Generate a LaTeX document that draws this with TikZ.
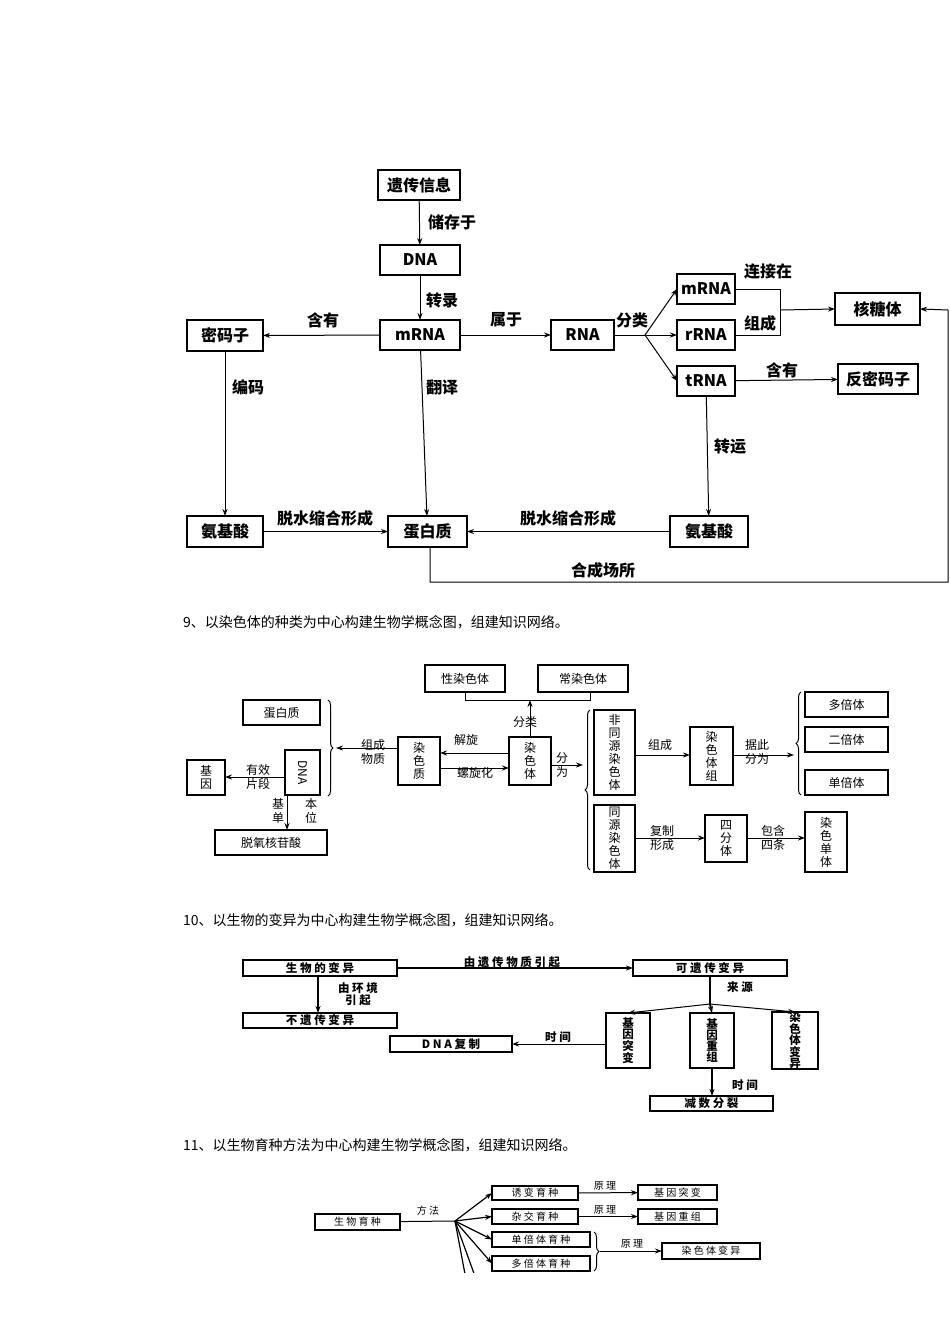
\documentclass[tikz,border=0pt]{standalone}
\usepackage{fontspec}
\setmainfont{Noto Sans CJK SC}
\newfontfamily\serifcjk{Liberation Serif}
\usetikzlibrary{arrows.meta,decorations.pathreplacing}
\newcommand\bx[7][]{\node[bx,#1,minimum width={(#5-#3)*1pt},minimum height={(#6-#4)*1pt}] (#2) at ({(#3+#5)/2},{(#4+#6)/2}) {#7};}
\tikzset{
 bx/.style={draw,line width=1.2pt,inner sep=0pt,outer sep=0pt,align=center,font=\fontsize{12}{13}\selectfont},
 big/.style={line width=1.8pt,font=\fontsize{16}{18}\selectfont\bfseries},
 mid/.style={font=\fontsize{12}{13}\selectfont},
 sml/.style={line width=1.5pt,font=\fontsize{11.5}{11}\selectfont\bfseries},
 tiny/.style={line width=1.3pt,font=\fontsize{10}{11}\selectfont},
 ar/.style={-{Stealth[length=7pt,width=5pt]},line width=1pt},
 ln/.style={line width=1pt},
 lb/.style={font=\fontsize{16}{18}\selectfont\bfseries,inner sep=1pt},
 lm/.style={font=\fontsize{12}{14}\selectfont,inner sep=1pt,align=center},
 ls/.style={font=\fontsize{11.5}{10}\selectfont\bfseries,inner sep=1pt,align=center},
 lt/.style={font=\fontsize{10}{11}\selectfont,inner sep=1pt},
 brR/.style={decorate,decoration={brace,amplitude=5pt},line width=1pt},
}
\begin{document}
\begin{tikzpicture}[x=1pt,y=-1pt]
\useasboundingbox (0,0) rectangle (950,1344);
\fill[white] (0,0) rectangle (950,1344);
% ---------- diagram 1 ----------
\bx[big]{yc}{378}{170}{460}{200}{遗传信息}
\bx[big]{dna}{380}{245}{460}{275}{DNA}
\bx[big]{mrna}{380}{320}{460}{350}{mRNA}
\bx[big]{mmz}{187}{320}{263}{351}{密码子}
\bx[big]{rna}{551}{320}{614}{350}{RNA}
\bx[big]{mr2}{677}{274}{735}{304}{mRNA}
\bx[big]{rr}{677}{320}{735}{350}{rRNA}
\bx[big]{tr}{677}{366}{735}{396}{tRNA}
\bx[big]{hty}{835}{293}{920}{325}{核糖体}
\bx[big]{fmm}{838}{364}{918}{394}{反密码子}
\bx[big]{aa1}{187}{516}{263}{547}{氨基酸}
\bx[big]{prot}{388}{516}{467}{547}{蛋白质}
\bx[big]{aa2}{670}{516}{748}{547}{氨基酸}
\draw[ar] (yc) -- (dna); \node[lb] at (452,222) {储存于};
\draw[ar] (dna) -- (mrna); \node[lb] at (442,300) {转录};
\draw[ar] (mrna) -- (mmz); \node[lb] at (323,320) {含有};
\draw[ar] (mrna) -- (rna); \node[lb] at (506,320) {属于};
\coordinate (sp1) at (645,335);
\draw[ln] (rna) -- (sp1); \node[lb] at (632,320) {分类};
\draw[ar] (sp1) -- (mr2.west); \draw[ar] (sp1) -- (rr.west); \draw[ar] (sp1) -- (tr.west);
\coordinate (j1) at (780,289); \coordinate (j2) at (780,335); \coordinate (j3) at (780,310);
\draw[ln] (mr2.east) -- (j1) -- (j2) -- (rr.east);
\draw[ar] (j3) -- (hty.west);
\node[lb] at (768,272) {连接在}; \node[lb] at (760,323) {组成};
\draw[ar] (tr) -- (fmm); \node[lb] at (782,370) {含有};
\draw[ar] (tr) -- (aa2); \node[lb] at (730,447) {转运};
\draw[ar] (aa2) -- (prot); \node[lb] at (568,518) {脱水缩合形成};
\draw[ar] (aa1) -- (prot); \node[lb] at (325,518) {脱水缩合形成};
\draw[ar] (mmz) -- (aa1); \node[lb] at (248,387) {编码};
\draw[ar] (mrna) -- (prot); \node[lb] at (442,387) {翻译};
\coordinate (b1) at (430,582); \coordinate (b2) at (948,582); \coordinate (b3) at (948,310);
\draw[ar] (prot.south -| b1) -- (b1) -- (b2) -- (b3) -- (hty.east);
\node[lb] at (603,570) {合成场所};
% captions
\node[anchor=west,font=\fontsize{14}{16}\selectfont,inner sep=0pt] at (183,622) {9、以染色体的种类为中心构建生物学概念图，组建知识网络。};
\node[anchor=west,font=\fontsize{14}{16}\selectfont,inner sep=0pt] at (183,920) {10、以生物的变异为中心构建生物学概念图，组建知识网络。};
\node[anchor=west,font=\fontsize{14}{16}\selectfont,inner sep=0pt] at (183,1145) {11、以生物育种方法为中心构建生物学概念图，组建知识网络。};
% ---------- diagram 2 ----------
\bx[mid]{xrs}{425}{665}{505}{692}{性染色体}
\bx[mid]{crs}{538}{665}{628}{692}{常染色体}
\bx[mid]{rst}{509}{737}{551}{785}{染\\色\\体}
\bx[mid]{rsz}{398}{737}{440}{785}{染\\色\\质}
\bx[mid]{dbz}{243}{700}{320}{725}{蛋白质}
\bx[mid]{dnab}{285}{750}{320}{795}{\rotatebox{-90}{DNA}}
\bx[mid]{jy}{187}{760}{225}{795}{基\\因}
\bx[mid]{tyh}{215}{830}{327}{855}{脱氧核苷酸}
\bx[mid]{ftr}{594}{710}{635}{795}{非\\同\\源\\染\\色\\体}
\bx[mid]{tr2}{594}{805}{635}{872}{同\\源\\染\\色\\体}
\bx[mid]{rstz}{690}{727}{733}{785}{染\\色\\体\\组}
\bx[mid]{dbt}{805}{692}{888}{717}{多倍体}
\bx[mid]{ebt}{805}{727}{888}{752}{二倍体}
\bx[mid]{dbt2}{805}{770}{888}{795}{单倍体}
\bx[mid]{sft}{705}{815}{747}{862}{四\\分\\体}
\bx[mid]{rsdt}{805}{812}{847}{872}{染\\色\\单\\体}
\coordinate (k1) at (465,700); \coordinate (k2) at (590,700); \coordinate (k3) at (530,700);
\draw[ln] (xrs.south -| k1) -- (k1) -- (k2) -- (crs.south -| k2);
\draw[ar] (rst.north -| k3) -- (k3); \node[lm] at (525,722) {分类};
\draw[ar] (rst.west |- 0,753) -- (rsz.east |- 0,753); \node[lm] at (466,740) {解旋};
\draw[ar] (rsz.east |- 0,768) -- (rst.west |- 0,768); \node[lm] at (475,773) {螺旋化};
\draw[brR] (328,700) -- (328,796);
\coordinate (t1) at (336,748);
\draw[ar] (rsz.west |- t1) -- (t1); \node[lm] at (373,752) {组成\\物质};
\draw[ar] (dnab.west |- 0,777) -- (jy.east |- 0,777); \node[lm] at (258,777) {有效\\片段};
\draw[ar] (dnab.south -| 287,0) -- (tyh.north -| 287,0);
\node[lm] at (278,811) {基\\单}; \node[lm] at (311,811) {本\\位};
\draw[brR] (590,870) -- (590,710);
\coordinate (t2) at (583,765);
\draw[ar] (rst.east |- t2) -- (t2); \node[lm] at (562,765) {分\\为};
\draw[ar] (ftr.east |- 0,755) -- (rstz.west |- 0,755); \node[lm] at (660,745) {组成};
\draw[brR] (801,795) -- (801,692);
\coordinate (t3) at (794,755);
\draw[ar] (rstz.east |- t3) -- (t3); \node[lm] at (757,752) {据此\\分为};
\draw[ar] (tr2.east |- 0,838) -- (sft.west |- 0,838); \node[lm] at (662,838) {复制\\形成};
\draw[ar] (sft.east |- 0,838) -- (rsdt.west |- 0,838); \node[lm] at (773,838) {包含\\四条};
% ---------- diagram 3 ----------
\bx[sml]{swby}{243}{960}{397}{976}{生 物 的 变 异}
\bx[sml]{kyc}{633}{960}{787}{976}{可 遗 传 变 异}
\bx[sml]{byc}{243}{1013}{397}{1028}{不 遗 传 变 异}
\bx[sml]{jytb}{606}{1013}{650}{1068}{基\\因\\突\\变}
\bx[sml]{jycz}{690}{1013}{734}{1068}{基\\因\\重\\组}
\bx[sml]{rsby}{772}{1013}{818}{1068}{染\\色\\体\\变\\异}
\bx[sml]{dnafz}{390}{1036}{512}{1052}{D N A 复 制}
\bx[sml]{jsfl}{650}{1096}{773}{1111}{减 数 分 裂}
\draw[ar,line width=1.3pt] (swby) -- (kyc); \node[ls] at (512,962) {由 遗 传 物 质 引 起};
\draw[ar,line width=2pt] (swby.south -| 318,0) -- (byc.north -| 318,0); \node[ls] at (358,994) {由 环 境\\引 起};
\coordinate (s3) at (710,1004);
\draw[line width=2pt] (kyc.south -| s3) -- (s3); \node[ls] at (740,987) {来 源};
\draw[ar] (s3) -- (jytb.north); \draw[ar,line width=2pt] (s3) -- (jycz.north); \draw[ar] (s3) -- (rsby.north);
\draw[ar] (jytb.west |- dnafz) -- (dnafz); \node[ls] at (558,1037) {时 间};
\draw[ar,line width=2pt] (jycz.south -| 712,0) -- (jsfl.north -| 712,0); \node[ls] at (745,1085) {时 间};
% ---------- diagram 4 ----------
\begin{scope}
\clip (0,0) rectangle (950,1272);
\bx[tiny]{swyz}{315}{1214}{400}{1230}{生 物 育 种}
\bx[tiny]{ybyz}{492}{1186}{578}{1200}{诱 变 育 种}
\bx[tiny]{zjyz}{492}{1209}{578}{1224}{杂 交 育 种}
\bx[tiny]{dbyz}{492}{1232}{590}{1247}{单 倍 体 育 种}
\bx[tiny]{duyz}{492}{1256}{590}{1271}{多 倍 体 育 种}
\bx[tiny]{jytb2}{638}{1185}{717}{1200}{基 因 突 变}
\bx[tiny]{jycz2}{638}{1209}{717}{1224}{基 因 重 组}
\bx[tiny]{rsby2}{662}{1243}{760}{1259}{染 色 体 变 异}
\coordinate (s4) at (455,1221);
\coordinate (e1) at (468,1290); \coordinate (e2) at (480,1290);
\draw[line width=1pt] (swyz) -- (s4); \node[lt] at (428,1211) {方 法};
\draw[ar,line width=1.2pt] (s4) -- (ybyz.west); \draw[ar,line width=1.2pt] (s4) -- (zjyz.west);
\draw[ar,line width=1.2pt] (s4) -- (dbyz.west); \draw[ar,line width=1.2pt] (s4) -- (duyz.west);
\draw[line width=1.2pt] (s4) -- (e1); \draw[line width=1.2pt] (s4) -- (e2);
\draw[ar] (ybyz) -- (jytb2); \node[lt] at (605,1186) {原 理};
\draw[ar] (zjyz) -- (jycz2); \node[lt] at (605,1210) {原 理};
\draw[brR] (594,1232) -- (594,1271);
\coordinate (t4) at (600,1251);
\draw[ar] (t4) -- (rsby2.west |- t4); \node[lt] at (632,1244) {原 理};
\end{scope}
\end{tikzpicture}
\end{document}
